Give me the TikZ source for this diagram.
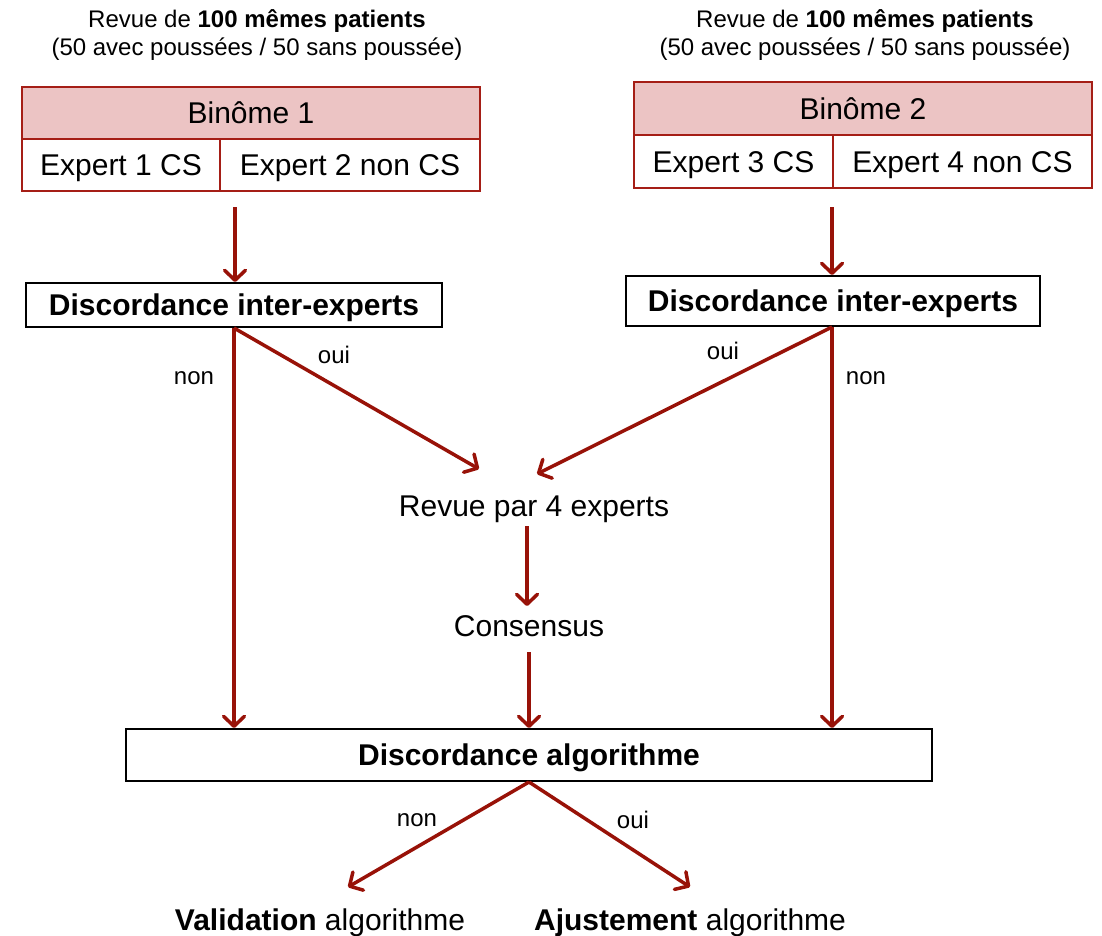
\documentclass[tikz,border=0pt]{standalone}
\usepackage{fontspec}
\setmainfont{Liberation Sans}
\usetikzlibrary{arrows.meta,calc}
\definecolor{arrowred}{RGB}{152,18,8}
\definecolor{tabred}{RGB}{165,30,22}
\definecolor{tabfill}{RGB}{236,196,196}
\begin{document}
\begin{tikzpicture}[x=1pt,y=-1pt,
  big/.style={font=\fontsize{30}{36}\selectfont, text height=21.5pt, text depth=0pt, inner sep=0pt},
  small/.style={font=\fontsize{24}{29}\selectfont, inner sep=0pt},
  lab/.style={font=\fontsize{24}{29}\selectfont, text height=12.5pt, text depth=0pt, inner sep=0pt},
  cell/.style={big, draw=tabred, line width=2pt, minimum height=52pt},
  dbox/.style={big, draw=black, line width=2pt, font=\fontsize{30}{36}\selectfont\bfseries},
  arr/.style={draw=arrowred, line width=3.5pt, -{Straight Barb[length=10pt,width=21pt,round]}}
]
\useasboundingbox (0,0) rectangle (1102,935);

% annotations
\node[small, anchor=base] (t1a) at (257,27) {Revue de \textbf{100 mêmes patients}};
\node[small, anchor=base] (t1b) at (257,55) {(50 avec poussées / 50 sans poussée)};
\node[small, anchor=base] (t2a) at (865,27) {Revue de \textbf{100 mêmes patients}};
\node[small, anchor=base] (t2b) at (865,55) {(50 avec poussées / 50 sans poussée)};

% tables
\node[cell, fill=tabfill, minimum width=458pt] (b1) at (251,113) {Binôme 1};
\node[cell, minimum width=198pt] (e1) at (121,165) {Expert 1 CS};
\node[cell, minimum width=260pt] (e2) at (350,165) {Expert 2 non CS};

\node[cell, fill=tabfill, minimum width=458pt, minimum height=53pt] (b2) at (863,108.5) {Binôme 2};
\node[cell, minimum width=199pt, minimum height=53pt] (e3) at (733.5,161.5) {Expert 3 CS};
\node[cell, minimum width=259pt, minimum height=53pt] (e4) at (962.5,161.5) {Expert 4 non CS};

% decision boxes
\node[dbox, minimum width=416pt, minimum height=44pt] (d1) at (234,305) {Discordance inter-experts};
\node[dbox, minimum width=414pt, minimum height=50pt] (d2) at (833,301) {Discordance inter-experts};
\node[dbox, minimum width=806pt, minimum height=52pt] (alg) at (529,755) {Discordance algorithme};

% plain texts
\node[big] (rev) at (534,505.5) {Revue par 4 experts};
\node[big] (cons) at (529,626) {Consensus};
\node[big] (val) at (320,919.5) {\textbf{Validation} algorithme};
\node[big] (aju) at (690,919.5) {\textbf{Ajustement} algorithme};

% coordinates
\coordinate (s1) at (235,207);
\coordinate (s2) at (832,207);
\coordinate (o1) at (479,469);
\coordinate (o2) at (537,474);
\coordinate (r1) at (527,526);
\coordinate (c1) at (527,606);
\coordinate (c2) at (529,652);
\coordinate (v1) at (348,887);
\coordinate (a1) at (690,887);

% connectors
\draw[arr] (s1) -- (s1 |- d1.north);
\draw[arr] (s2) -- (s2 |- d2.north);
\draw[arr] (d1.south) -- (o1);
\draw[arr] (d1.south) -- (d1.south |- alg.north);
\draw[arr] (s2 |- d2.south) -- (o2);
\draw[arr] (s2 |- d2.south) -- (s2 |- alg.north);
\draw[arr] (r1) -- (c1);
\draw[arr] (c2) -- (c2 |- alg.north);
\draw[arr] (alg.south) -- (v1);
\draw[arr] (alg.south) -- (a1);

% labels
\node[lab] (l1) at (194,378) {non};
\node[lab] (l2) at (334,357) {oui};
\node[lab] (l3) at (723,353) {oui};
\node[lab] (l4) at (866,378) {non};
\node[lab] (l5) at (417,820) {non};
\node[lab] (l6) at (633,822) {oui};
\end{tikzpicture}
\end{document}
